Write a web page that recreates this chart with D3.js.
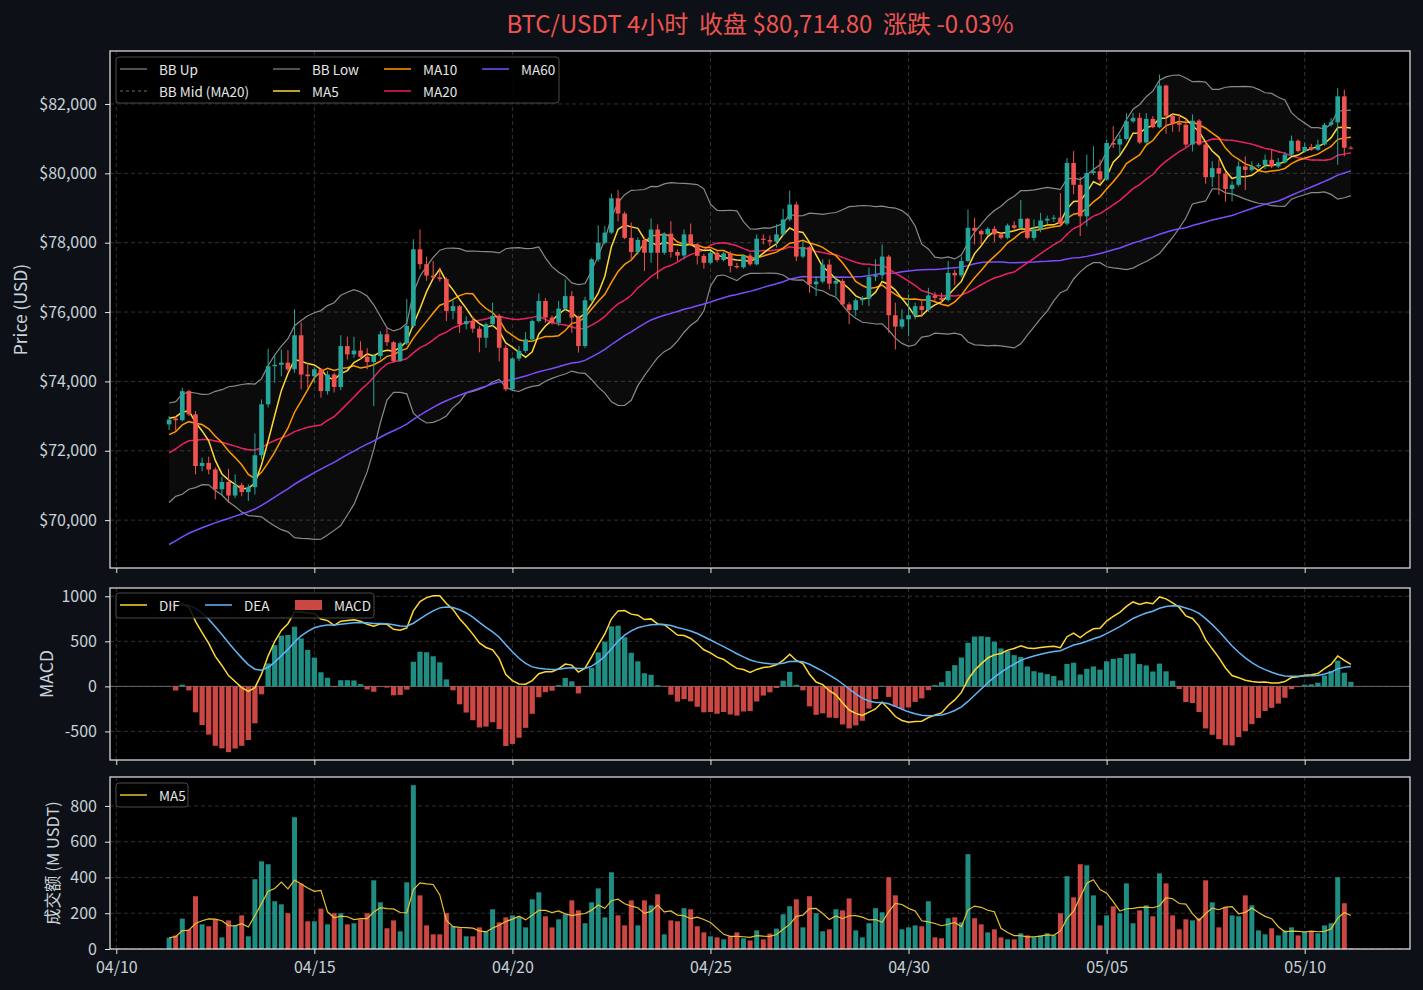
<!DOCTYPE html>
<html>
<head>
<meta charset="utf-8">
<script src="https://cdn.jsdelivr.net/npm/d3@7"></script>
<style>
  body { margin: 0; background: #0d1117; }
  svg text { font-family: "Noto Sans CJK SC", "Noto Sans", sans-serif; }
</style>
</head>
<body>
<div class="chart"></div>
<script>
// ---- data ----
const pair = "BTC/USDT";
const interval = "4小时";
const firstCandle = "2025-04-11T08:00:00Z";
const stepHours = 4;
const xTickLabels = ["04/10", "04/15", "04/20", "04/25", "04/30", "05/05", "05/10"];
const priceTicks = [70000, 72000, 74000, 76000, 78000, 80000, 82000];
const macdTicks = [-500, 0, 500, 1000];
const volumeTicks = [0, 200, 400, 600, 800];

// closes before the visible window (only used to warm up MA / BB / MACD),
// estimated from where the indicator lines start
const warmupCloses = [
  64800, 64950, 64880, 65100, 65250, 65180, 65400, 65520, 65450, 65650,
  65800, 65720, 65900, 66050, 65980, 66150, 66300, 66220, 66400, 66350,
  66500, 66620, 66550, 66700, 66650, 66800, 66750, 66900, 66850, 66700,
  66800, 66650, 66800, 66700, 66900, 66850, 67000, 66900, 67100, 67050,
  66950, 67150, 67050, 67200, 67100, 67300, 67200, 67350, 67250, 67400,
  67300, 67600, 67800, 67700, 68000, 68200, 68100, 68400, 68600, 68500,
  68800, 69000, 69200, 69100, 69400, 69600, 69500, 69800, 70000, 70200,
  70300, 70700, 70900, 71100, 71300, 71200, 71500, 71700, 71900, 71800,
  72100, 72000, 71800, 72100, 72000, 72050, 72700, 73000, 72900, 73200
];

// [open, high, low, close]
const ohlc = [
  [72760, 73000, 72600, 72900], [72930, 73000, 72570, 72880], [72880, 73820, 72850, 73720], [73720, 73750, 73000, 73050],
  [73050, 73150, 71320, 71560], [71560, 71800, 71410, 71650], [71650, 71830, 71320, 71460], [71460, 71520, 70600, 70890],
  [70890, 71250, 70710, 71100], [71100, 71480, 70500, 70710], [70710, 71320, 70640, 71010], [71010, 71080, 70690, 70810],
  [70810, 71030, 70550, 70950], [70950, 72500, 70740, 71870], [71870, 73480, 71750, 73340], [73340, 74940, 73250, 74440],
  [74440, 74780, 73960, 74480], [74480, 74920, 74150, 74540], [74540, 74900, 74300, 74350], [74350, 76080, 74250, 75330],
  [75330, 75700, 73770, 74200], [74200, 74540, 73820, 74150], [74150, 74400, 73960, 74350], [74350, 74380, 73530, 73720],
  [73720, 74300, 73620, 74200], [74200, 74250, 73680, 73840], [73840, 75330, 73750, 75020], [75020, 75290, 74630, 74780],
  [74780, 75290, 74680, 74890], [74890, 75160, 74630, 74710], [74710, 74960, 74350, 74560], [74560, 74800, 73290, 74730],
  [74730, 75450, 74630, 75360], [75360, 75550, 75020, 75130], [75130, 75160, 74540, 74590], [74590, 75140, 74560, 75100],
  [75100, 76380, 75050, 75600], [75600, 78100, 75550, 77810], [77810, 78380, 77230, 77380], [77380, 77600, 76900, 77050],
  [77050, 77470, 76950, 77000], [77000, 77280, 76880, 76950], [76950, 77000, 75740, 76030], [76030, 76370, 75790, 76170],
  [76170, 76200, 75400, 75650], [75650, 75880, 75500, 75740], [75740, 75880, 75400, 75520], [75520, 75600, 74840, 75260],
  [75260, 75700, 74970, 75650], [75650, 76270, 75600, 75890], [75890, 75950, 74580, 74970], [74970, 75050, 73720, 73770],
  [73770, 74700, 73720, 74660], [74660, 75020, 74590, 74880], [74880, 75420, 74820, 75210], [75210, 75790, 75150, 75740],
  [75740, 76540, 75700, 76320], [76320, 76400, 75690, 75840], [75840, 75900, 75640, 75690], [75690, 76320, 75600, 76100],
  [76100, 76940, 76050, 76460], [76460, 76610, 75400, 75840], [75840, 75900, 74830, 75020], [75020, 76440, 74970, 76340],
  [76340, 77560, 76300, 77520], [77520, 78500, 77450, 78000], [78000, 78480, 77950, 78290], [78290, 79420, 78250, 79280],
  [79280, 79520, 78610, 78840], [78840, 78900, 78100, 78140], [78140, 78580, 77470, 77730], [77730, 78150, 77650, 78080],
  [78080, 78150, 77180, 77710], [77710, 78700, 77420, 78380], [78380, 78530, 76950, 77710], [77710, 78300, 77650, 78260],
  [78260, 78620, 77570, 77730], [77730, 77800, 77470, 77630], [77630, 78380, 77520, 78240], [78240, 78550, 77900, 77950],
  [77950, 78000, 77370, 77620], [77620, 77680, 77250, 77420], [77420, 77760, 77380, 77710], [77710, 77750, 77450, 77500],
  [77500, 77740, 77460, 77690], [77690, 77750, 77140, 77330], [77330, 77420, 77250, 77290], [77290, 77660, 77250, 77630],
  [77630, 77700, 77330, 77375], [77375, 78240, 77350, 78115], [78115, 78240, 77950, 78080], [78080, 78210, 77900, 78030],
  [78030, 78530, 77860, 78240], [78240, 78980, 78200, 78670], [78670, 79500, 78620, 79100], [79100, 79180, 77470, 77600],
  [77600, 78050, 77550, 77870], [77870, 77900, 76560, 76800], [76800, 77040, 76460, 76880], [76880, 77520, 76830, 77370],
  [77370, 77520, 76650, 76820], [76820, 77040, 76460, 76900], [76900, 76950, 76200, 76220], [76220, 76280, 75650, 76060],
  [76060, 76400, 75890, 76340], [76340, 76460, 76200, 76390], [76390, 77280, 76170, 77020], [77020, 77520, 76900, 77060],
  [77060, 77950, 76940, 77600], [77600, 77650, 75400, 75910], [75910, 76270, 74920, 75580], [75580, 76080, 75520, 75790],
  [75790, 76510, 75300, 75910], [75910, 76270, 75790, 76170], [76170, 76320, 75850, 76060], [76060, 76700, 76000, 76480],
  [76480, 76580, 76320, 76410], [76410, 76560, 76270, 76350], [76350, 77470, 76300, 77130], [77130, 77220, 76780, 77060],
  [77060, 77600, 77000, 77470], [77470, 78960, 77440, 78430], [78430, 78720, 77950, 78340], [78340, 78380, 77950, 78240],
  [78240, 78450, 78200, 78400], [78400, 78480, 78020, 78240], [78240, 78300, 78100, 78140], [78140, 78550, 78100, 78500],
  [78500, 78620, 78380, 78430], [78430, 79230, 78400, 78690], [78690, 78720, 78100, 78140], [78140, 78670, 78060, 78385],
  [78385, 78860, 78300, 78640], [78640, 78780, 78540, 78690], [78690, 78800, 78600, 78720], [78720, 79430, 78500, 78550],
  [78550, 80440, 78500, 80300], [80300, 80640, 79400, 79670], [79670, 79900, 78190, 78760], [78760, 80540, 78470, 80010],
  [80010, 80780, 79950, 80060], [80060, 80400, 79700, 79820], [79820, 80970, 79780, 80875], [80875, 81360, 80730, 80830],
  [80830, 81110, 80560, 80990], [80990, 81740, 80950, 81500], [81500, 81740, 81450, 81600], [81600, 81740, 80850, 80890],
  [80890, 81740, 80850, 81570], [81570, 81650, 81300, 81330], [81330, 82850, 81300, 82530], [82530, 82560, 81140, 81660],
  [81660, 81740, 81200, 81450], [81450, 81700, 81200, 81400], [81400, 81550, 80760, 80830], [80830, 81700, 80630, 81520],
  [81520, 81560, 80800, 80830], [80830, 80900, 79700, 79890], [79890, 80350, 79610, 80150], [80150, 80400, 79380, 79990],
  [79990, 80050, 79190, 79550], [79550, 79770, 79190, 79670], [79670, 80350, 79620, 80200], [80200, 80490, 79520, 80100],
  [80100, 80350, 80050, 80200], [80200, 80300, 80150, 80240], [80240, 80540, 80120, 80390], [80390, 80680, 80150, 80200],
  [80200, 80440, 80150, 80320], [80320, 80600, 80280, 80540], [80540, 81090, 80500, 80940], [80940, 80980, 80600, 80640],
  [80640, 80880, 80600, 80760], [80760, 80850, 80650, 80680], [80680, 80970, 80650, 80830], [80830, 81450, 80800, 81400],
  [81400, 81600, 81350, 81470], [81470, 82460, 80250, 82220], [82220, 82410, 80490, 80739], [80739, 80780, 80690, 80714.8]
];

// turnover per candle, M USDT
const volumes = [
  63, 76, 170, 110, 295, 138, 127, 166, 65, 160,
  129, 188, 71, 390, 490, 474, 267, 250, 200, 737,
  366, 155, 155, 226, 138, 200, 200, 138, 144, 166,
  200, 384, 261, 116, 160, 99, 373, 916, 300, 132,
  82, 82, 200, 127, 116, 71, 71, 121, 99, 222,
  149, 177, 188, 179, 121, 278, 317, 183, 121, 166,
  194, 272, 216, 144, 261, 339, 177, 429, 188, 132,
  272, 132, 272, 244, 306, 82, 160, 155, 228, 222,
  127, 93, 71, 65, 54, 71, 93, 60, 48, 104,
  54, 86, 114, 194, 239, 278, 121, 295, 200, 99,
  110, 222, 216, 283, 104, 65, 144, 228, 205, 401,
  300, 110, 121, 132, 127, 267, 65, 60, 172, 177,
  149, 530, 172, 138, 93, 110, 65, 54, 54, 88,
  76, 65, 76, 88, 76, 200, 407, 289, 474, 468,
  300, 132, 188, 239, 200, 367, 144, 216, 244, 183,
  423, 367, 188, 110, 166, 160, 172, 384, 261, 121,
  233, 188, 183, 300, 244, 104, 82, 116, 76, 104,
  121, 76, 99, 99, 88, 132, 144, 401, 256, 3
];

// ---- style ----
const cfg = {
  w: 1423,
  h: 990,
  left: 110,
  right: 1410,
  panels: {
    price: { top: 51, bottom: 568 },
    macd: { top: 588, bottom: 760 },
    vol: { top: 777, bottom: 949 }
  },
  colors: {
    bg: '#0d1117',
    axesBg: '#000000',
    up: '#26a69a',
    down: '#ef5350',
    text: '#c9d1d9',
    spine: '#e6e6e6',
    grid: '#3c3c3c',
    bb: '#8a8a8a',
    ma5: '#fdd835',
    ma10: '#ff9800',
    ma20: '#e91e63',
    ma60: '#7c4dff',
    dif: '#fdd835',
    dea: '#64b5f6',
    volMa: '#e6c035'
  }
};

// ---- indicators ----
const t0 = d3.isoParse(firstCandle);
const stepMs = stepHours * 3600 * 1000;
const allCloses = warmupCloses.concat(ohlc.map(d => d[3]));
const off = warmupCloses.length;

function sma(arr, n, i) {
  let s = 0;
  for (let k = i - n + 1; k <= i; k++) s += arr[k];
  return s / n;
}
function stdev(arr, n, i, m) {
  let s = 0;
  for (let k = i - n + 1; k <= i; k++) s += (arr[k] - m) * (arr[k] - m);
  return Math.sqrt(s / (n - 1));
}
function ema(arr, span) {
  const a = 2 / (span + 1);
  const out = [arr[0]];
  for (let k = 1; k < arr.length; k++) out.push(a * arr[k] + (1 - a) * out[k - 1]);
  return out;
}
const ema12 = ema(allCloses, 12);
const ema26 = ema(allCloses, 26);
const difAll = ema12.map((v, k) => v - ema26[k]);
const deaAll = ema(difAll, 9);

const rows = ohlc.map((d, i) => {
  const k = i + off;
  const ma20 = sma(allCloses, 20, k);
  const sd = stdev(allCloses, 20, k, ma20);
  const vn = Math.min(5, i + 1);
  let vs = 0;
  for (let j = i - vn + 1; j <= i; j++) vs += volumes[j];
  return {
    t: new Date(t0.getTime() + i * stepMs),
    o: d[0], h: d[1], l: d[2], c: d[3],
    vol: volumes[i],
    volMa5: vs / vn,
    ma5: sma(allCloses, 5, k),
    ma10: sma(allCloses, 10, k),
    ma20: ma20,
    ma60: sma(allCloses, 60, k),
    bbUp: ma20 + 2 * sd,
    bbLow: ma20 - 2 * sd,
    dif: difAll[k],
    dea: deaAll[k],
    macd: 2 * (difAll[k] - deaAll[k])
  };
});

// ---- scales ----
const tFirst = rows[0].t, tLast = rows[rows.length - 1].t;
const tPad = (tLast - tFirst) * 0.05;
const x = d3.scaleUtc()
  .domain([new Date(tFirst.getTime() - tPad), new Date(tLast.getTime() + tPad)])
  .range([cfg.left, cfg.right]);

function padded(lo, hi) {
  const p = (hi - lo) * 0.05;
  return [lo - p, hi + p];
}
const pLo = d3.min(rows, d => Math.min(d.l, d.bbLow, d.ma60));
const pHi = d3.max(rows, d => Math.max(d.h, d.bbUp, d.ma60));
const yP = d3.scaleLinear().domain(padded(pLo, pHi))
  .range([cfg.panels.price.bottom, cfg.panels.price.top]);
const mLo = d3.min(rows, d => Math.min(d.dif, d.dea, d.macd, 0));
const mHi = d3.max(rows, d => Math.max(d.dif, d.dea, d.macd, 0));
const yM = d3.scaleLinear().domain(padded(mLo, mHi))
  .range([cfg.panels.macd.bottom, cfg.panels.macd.top]);
const yV = d3.scaleLinear().domain([0, d3.max(rows, d => d.vol) * 1.05])
  .range([cfg.panels.vol.bottom, cfg.panels.vol.top]);

const xTickDates = xTickLabels.map(s => d3.utcParse("%Y/%m/%d")("2025/" + s));
const stepPx = x(rows[1].t) - x(rows[0].t);
const isUp = d => d.c >= d.o;
// plain hyphen for negatives, like the reference
const intFmt = d => (d < 0 ? "-" : "") + Math.abs(d);

// ---- svg ----
const svg = d3.select(".chart").append("svg")
  .attr("width", cfg.w).attr("height", cfg.h)
  .style("background", cfg.colors.bg);

function panel(p, y, ticks, fmt, label, labelX, showX) {
  const g = svg.append("g");
  g.append("rect").attr("x", cfg.left).attr("y", p.top)
    .attr("width", cfg.right - cfg.left).attr("height", p.bottom - p.top)
    .attr("fill", cfg.colors.axesBg);
  // grid
  g.selectAll("line.gy").data(ticks).enter().append("line")
    .attr("x1", cfg.left).attr("x2", cfg.right)
    .attr("y1", d => y(d)).attr("y2", d => y(d))
    .attr("stroke", cfg.colors.grid).attr("stroke-width", 0.8).attr("stroke-dasharray", "4,3");
  g.selectAll("line.gx").data(xTickDates).enter().append("line")
    .attr("x1", d => x(d)).attr("x2", d => x(d))
    .attr("y1", p.top).attr("y2", p.bottom)
    .attr("stroke", cfg.colors.grid).attr("stroke-width", 0.8).attr("stroke-dasharray", "4,3");
  // y axis
  const ya = svg.append("g").attr("class", "axis")
    .attr("transform", "translate(" + cfg.left + ",0)")
    .call(d3.axisLeft(y).tickValues(ticks).tickFormat(fmt).tickSize(5).tickPadding(8));
  // x axis
  const xa = svg.append("g").attr("class", "axis")
    .attr("transform", "translate(0," + p.bottom + ")")
    .call(d3.axisBottom(x).tickValues(xTickDates)
      .tickFormat(showX ? d3.utcFormat("%m/%d") : "").tickSize(5).tickPadding(8));
  [ya, xa].forEach(a => {
    a.select(".domain").remove();
    a.selectAll(".tick line").attr("stroke", cfg.colors.spine);
    a.selectAll(".tick text").attr("fill", cfg.colors.text).style("font-size", "16px");
  });
  svg.append("text")
    .attr("transform", "translate(" + labelX + "," + ((p.top + p.bottom) / 2) + ") rotate(-90)")
    .attr("text-anchor", "middle").attr("dominant-baseline", "central")
    .attr("fill", cfg.colors.text).style("font-size", label.size)
    .text(label.text);
  return g;
}

function frame(p) {
  svg.append("rect").attr("x", cfg.left).attr("y", p.top)
    .attr("width", cfg.right - cfg.left).attr("height", p.bottom - p.top)
    .attr("fill", "none").attr("stroke", cfg.colors.spine).attr("stroke-width", 1.2);
}

function legend(x0, y0, w, h, items) {
  const g = svg.append("g");
  g.append("rect").attr("x", x0).attr("y", y0).attr("width", w).attr("height", h)
    .attr("rx", 3).attr("fill", "#000000").attr("fill-opacity", 0.85)
    .attr("stroke", "#4a4a4a").attr("stroke-width", 1);
  items.forEach(it => {
    if (it.patch) {
      g.append("rect").attr("x", it.x).attr("y", it.y - 5).attr("width", 27).attr("height", 10)
        .attr("fill", it.color).attr("fill-opacity", 0.85);
    } else {
      g.append("line").attr("x1", it.x).attr("x2", it.x + 27).attr("y1", it.y).attr("y2", it.y)
        .attr("stroke", it.color).attr("stroke-width", it.width || 1.5)
        .attr("stroke-dasharray", it.dash || null);
    }
    g.append("text").attr("x", it.x + 39).attr("y", it.y)
      .attr("dominant-baseline", "central").attr("fill", "#e6e6e6")
      .style("font-size", "13.5px").text(it.label);
  });
}

// title
const last = rows[rows.length - 1], prev = rows[rows.length - 2];
const chg = (last.c / prev.c - 1) * 100;
svg.append("text").attr("x", (cfg.left + cfg.right) / 2).attr("y", 22)
  .attr("text-anchor", "middle").attr("dominant-baseline", "central")
  .attr("xml:space", "preserve").style("white-space", "pre")
  .attr("fill", cfg.colors.down).style("font-size", "24px")
  .text(pair + " " + interval + "  收盘 $" + d3.format(",.2f")(last.c) +
    "  涨跌 " + (chg < 0 ? "-" : "+") + Math.abs(chg).toFixed(2) + "%");

// ---- price panel ----
const gP = panel(cfg.panels.price, yP, priceTicks, d => "$" + d3.format(",")(d),
  { text: "Price (USD)", size: "17.5px" }, 19, false);

gP.append("path").datum(rows)
  .attr("d", d3.area().x(d => x(d.t)).y0(d => yP(d.bbLow)).y1(d => yP(d.bbUp)))
  .attr("fill", "#ffffff").attr("fill-opacity", 0.045);

function drawLine(g, y, key, color, width, dash) {
  g.append("path").datum(rows)
    .attr("d", d3.line().x(d => x(d.t)).y(d => y(d[key])))
    .attr("fill", "none").attr("stroke", color).attr("stroke-width", width)
    .attr("stroke-dasharray", dash || null);
}
drawLine(gP, yP, "bbUp", cfg.colors.bb, 1.2);
drawLine(gP, yP, "bbLow", cfg.colors.bb, 1.2);
drawLine(gP, yP, "ma20", cfg.colors.bb, 0.8, "3,3");
drawLine(gP, yP, "ma60", cfg.colors.ma60, 1.5);
drawLine(gP, yP, "ma20", cfg.colors.ma20, 1.5);
drawLine(gP, yP, "ma10", cfg.colors.ma10, 1.5);
drawLine(gP, yP, "ma5", cfg.colors.ma5, 1.5);

const bodyW = stepPx * 0.7;
gP.selectAll("line.wick").data(rows).enter().append("line")
  .attr("x1", d => x(d.t)).attr("x2", d => x(d.t))
  .attr("y1", d => yP(d.h)).attr("y2", d => yP(d.l))
  .attr("stroke", d => isUp(d) ? cfg.colors.up : cfg.colors.down).attr("stroke-width", 1);
gP.selectAll("rect.body").data(rows).enter().append("rect")
  .attr("x", d => x(d.t) - bodyW / 2).attr("width", bodyW)
  .attr("y", d => yP(Math.max(d.o, d.c)))
  .attr("height", d => Math.max(1, Math.abs(yP(d.o) - yP(d.c))))
  .attr("fill", d => isUp(d) ? cfg.colors.up : cfg.colors.down);
frame(cfg.panels.price);

legend(116, 57, 443, 46, [
  { x: 120, y: 69, color: cfg.colors.bb, label: "BB Up", width: 1.2 },
  { x: 120, y: 91, color: cfg.colors.bb, label: "BB Mid (MA20)", width: 0.8, dash: "3,3" },
  { x: 273, y: 69, color: cfg.colors.bb, label: "BB Low", width: 1.2 },
  { x: 273, y: 91, color: cfg.colors.ma5, label: "MA5" },
  { x: 384, y: 69, color: cfg.colors.ma10, label: "MA10" },
  { x: 384, y: 91, color: cfg.colors.ma20, label: "MA20" },
  { x: 482, y: 69, color: cfg.colors.ma60, label: "MA60" }
]);

// ---- MACD panel ----
const gM = panel(cfg.panels.macd, yM, macdTicks, intFmt,
  { text: "MACD", size: "17.5px" }, 45, false);
gM.append("line").attr("x1", cfg.left).attr("x2", cfg.right)
  .attr("y1", yM(0)).attr("y2", yM(0)).attr("stroke", "#7a7a7a").attr("stroke-width", 0.8);
const macdW = stepPx * 0.8;
gM.selectAll("rect.hist").data(rows).enter().append("rect")
  .attr("x", d => x(d.t) - macdW / 2).attr("width", macdW)
  .attr("y", d => yM(Math.max(0, d.macd)))
  .attr("height", d => Math.abs(yM(d.macd) - yM(0)))
  .attr("fill", d => d.macd >= 0 ? cfg.colors.up : cfg.colors.down).attr("fill-opacity", 0.85);
drawLine(gM, yM, "dif", cfg.colors.dif, 1.5);
drawLine(gM, yM, "dea", cfg.colors.dea, 1.5);
frame(cfg.panels.macd);
legend(116, 593, 258, 25, [
  { x: 120, y: 605, color: cfg.colors.dif, label: "DIF" },
  { x: 205, y: 605, color: cfg.colors.dea, label: "DEA" },
  { x: 295, y: 605, color: cfg.colors.down, label: "MACD", patch: true }
]);

// ---- volume panel ----
const gV = panel(cfg.panels.vol, yV, volumeTicks, intFmt,
  { text: "成交额 (M USDT)", size: "16.5px" }, 52, true);
const volW = stepPx * 0.75;
gV.selectAll("rect.vol").data(rows).enter().append("rect")
  .attr("x", d => x(d.t) - volW / 2).attr("width", volW)
  .attr("y", d => yV(d.vol)).attr("height", d => yV(0) - yV(d.vol))
  .attr("fill", d => isUp(d) ? cfg.colors.up : cfg.colors.down).attr("fill-opacity", 0.85);
drawLine(gV, yV, "volMa5", cfg.colors.volMa, 1.2);
frame(cfg.panels.vol);
legend(116, 783, 72, 24, [
  { x: 120, y: 795, color: cfg.colors.volMa, label: "MA5" }
]);
</script>
</body>
</html>
